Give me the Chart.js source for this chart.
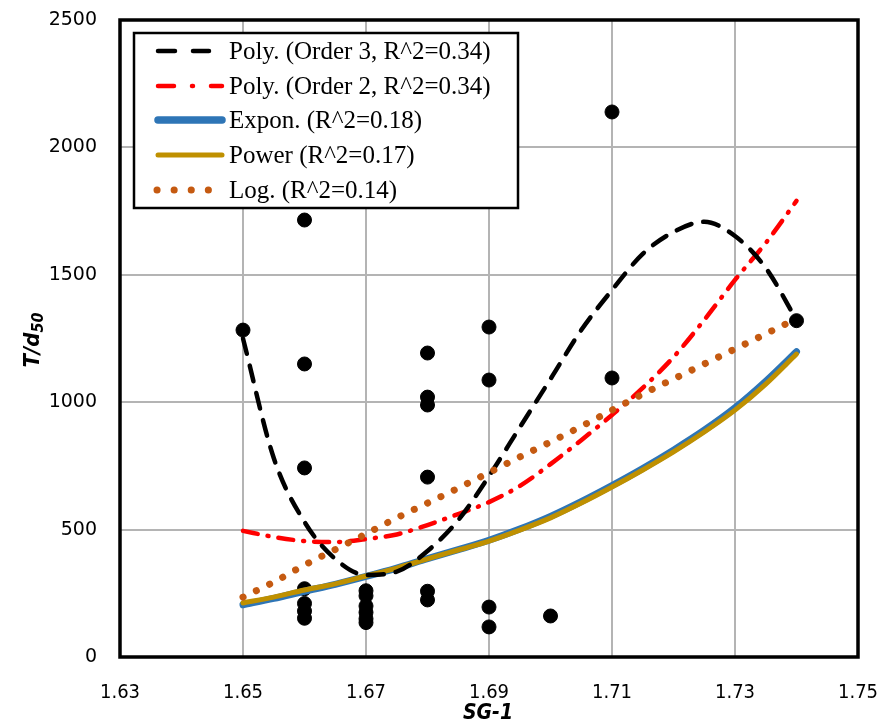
<!DOCTYPE html>
<html>
<head>
<meta charset="utf-8">
<script src="https://cdn.jsdelivr.net/npm/chart.js@4.4.1/dist/chart.umd.min.js"></script>
<style>
  html, body { margin: 0; padding: 0; background: #fff; }
  #wrap { width: 881px; height: 728px; }
</style>
</head>
<body>
<div id="wrap"><canvas id="chartSG"></canvas></div>
<script>
// measured points (SG-1, T/d50)
const obsX = [1.65, 1.66, 1.66, 1.66, 1.66, 1.66, 1.66, 1.66,
  1.67, 1.67, 1.67, 1.67, 1.67, 1.67,
  1.68, 1.68, 1.68, 1.68, 1.68, 1.68,
  1.69, 1.69, 1.69, 1.69, 1.70, 1.71, 1.71, 1.74];
const obsY = [1283, 1715, 1150, 742, 268, 210, 180, 152,
  260, 240, 200, 175, 150, 135,
  1193, 1020, 989, 706, 258, 224,
  1295, 1087, 196, 118, 161, 2139, 1095, 1320];

// trendlines
const trendX = [1.65, 1.655, 1.66, 1.665, 1.67, 1.675, 1.68, 1.685, 1.69, 1.695,
  1.70, 1.705, 1.71, 1.715, 1.72, 1.725, 1.73, 1.735, 1.74];
const poly3 = [1250, 781, 530, 385, 322, 335, 416, 537, 710, 901,
  1091, 1283, 1440, 1582, 1668, 1708, 1652, 1527, 1323];
const poly2 = [495, 471, 455, 451, 463, 481, 518, 561, 608, 671,
  757, 851, 950, 1056, 1177, 1323, 1480, 1625, 1790];
const expon = [205, 230, 258, 285, 316, 349, 386, 421, 458, 502,
  552, 610, 673, 740, 812, 890, 978, 1082, 1198];
const power = [212, 235, 263, 287, 318, 349, 385, 420, 455, 498,
  546, 604, 667, 734, 805, 883, 969, 1071, 1189];
const logFit = [235, 294, 361, 422, 483, 546, 604, 663, 724, 785,
  844, 905, 969, 1032, 1091, 1150, 1209, 1268, 1328];

const xTicks = [1.63, 1.65, 1.67, 1.69, 1.71, 1.73, 1.75];
const yTicks = [0, 500, 1000, 1500, 2000, 2500];

const legendNames = [
  'Poly. (Order 3, R^2=0.34)',
  'Poly. (Order 2, R^2=0.34)',
  'Expon. (R^2=0.18)',
  'Power (R^2=0.17)',
  'Log. (R^2=0.14)'
];

const pts = (xs, ys) => xs.map((x, i) => ({ x: x, y: ys[i] }));

const trendStyles = [
  { color: '#000000', width: 4.5, dash: [16, 12], order: 2 },
  { color: '#ff0000', width: 4.5, dash: [15, 10, 1, 10], order: 3 },
  { color: '#2e75b6', width: 7, dash: [], order: 5 },
  { color: '#bf9000', width: 5, dash: [], order: 4 },
  { color: '#c55a11', width: 7, dash: [0.1, 14.7], order: 1 }
];
const trendData = [poly3, poly2, expon, power, logFit];

// legend swatches: [x0, x1, dash]
const swatches = [
  [158, 209, [17, 18]],
  [158, 222, [16, 18, 1, 18]],
  [158, 222, []],
  [158, 222, []],
  [157, 210, [0.1, 17]]
];

const datasets = trendData.map((vals, i) => ({
  label: legendNames[i],
  data: pts(trendX, vals),
  showLine: true,
  borderColor: trendStyles[i].color,
  borderWidth: trendStyles[i].width,
  borderDash: trendStyles[i].dash,
  borderCapStyle: 'round',
  cubicInterpolationMode: 'monotone',
  pointRadius: 0,
  fill: false,
  order: trendStyles[i].order
}));

datasets.push({
  label: 'data',
  data: pts(obsX, obsY),
  backgroundColor: '#000',
  borderColor: '#000',
  pointRadius: 7,
  pointHoverRadius: 7,
  showLine: false,
  order: 6
});

const titleFont = '"DejaVu Sans Condensed", "Liberation Sans Narrow", sans-serif';

// frame, axis titles and legend box
const decor = {
  id: 'decor',
  beforeDatasetsDraw(chart) {
    const { ctx, chartArea: a } = chart;
    ctx.save();
    ctx.strokeStyle = '#000';
    ctx.lineWidth = 3.5;
    ctx.strokeRect(a.left, a.top, a.right - a.left, a.bottom - a.top);
    ctx.restore();
  },
  afterDatasetsDraw(chart) {
    const { ctx } = chart;
    ctx.save();
    // x title
    ctx.fillStyle = '#000';
    ctx.font = 'bold italic 21px ' + titleFont;
    ctx.textAlign = 'center';
    ctx.textBaseline = 'middle';
    ctx.fillText('SG-1', 488, 714);
    // y title with subscript
    ctx.translate(33, 340);
    ctx.rotate(-Math.PI / 2);
    ctx.textAlign = 'left';
    ctx.font = 'bold italic 22px ' + titleFont;
    const main = 'T/d';
    const w1 = ctx.measureText(main).width;
    ctx.font = 'bold italic 16px ' + titleFont;
    const w2 = ctx.measureText('50').width;
    const start = -(w1 + w2) / 2;
    ctx.font = 'bold italic 22px ' + titleFont;
    ctx.fillText(main, start, 0);
    ctx.font = 'bold italic 16px ' + titleFont;
    ctx.fillText('50', start + w1, 6);
    ctx.restore();

    // legend
    ctx.save();
    ctx.fillStyle = '#fff';
    ctx.fillRect(134, 33, 384, 175);
    ctx.strokeStyle = '#000';
    ctx.lineWidth = 2.5;
    ctx.strokeRect(134, 33, 384, 175);
    const rowY = [51, 86, 120, 155, 190];
    legendNames.forEach((name, i) => {
      const s = trendStyles[i];
      const sw = swatches[i];
      ctx.beginPath();
      ctx.strokeStyle = s.color;
      ctx.lineWidth = i === 2 ? 7.5 : s.width;
      ctx.lineCap = 'round';
      ctx.setLineDash(sw[2]);
      ctx.moveTo(sw[0], rowY[i]);
      ctx.lineTo(sw[1], rowY[i]);
      ctx.stroke();
      ctx.setLineDash([]);
      ctx.fillStyle = '#000';
      ctx.font = '25px "Liberation Serif", "Times New Roman", serif';
      ctx.textAlign = 'left';
      ctx.textBaseline = 'middle';
      ctx.fillText(name, 229, rowY[i] + 1);
    });
    ctx.restore();
  }
};

new Chart(document.getElementById('chartSG').getContext('2d'), {
  type: 'scatter',
  data: { datasets: datasets },
  plugins: [decor],
  options: {
    responsive: true,
    maintainAspectRatio: false,
    animation: false,
    layout: { padding: { left: 0, top: 20, right: 23, bottom: 0 } },
    plugins: { legend: { display: false }, tooltip: { enabled: false } },
    scales: {
      x: {
        type: 'linear',
        min: 1.63,
        max: 1.75,
        afterFit: s => { s.height = 71; s.paddingLeft = 0; s.paddingRight = 0; },
        afterBuildTicks: s => { s.ticks = xTicks.map(v => ({ value: v })); },
        grid: { color: '#b4b4b4', lineWidth: 2, drawTicks: false },
        border: { display: false },
        ticks: {
          color: '#000',
          padding: 24,
          maxRotation: 0,
          font: { family: titleFont, size: 20 },
          callback: v => v.toFixed(2)
        }
      },
      y: {
        min: 0,
        max: 2500,
        afterFit: s => { s.width = 120; s.paddingTop = 0; s.paddingBottom = 0; },
        afterBuildTicks: s => { s.ticks = yTicks.map(v => ({ value: v })); },
        grid: { color: '#b4b4b4', lineWidth: 2, drawTicks: false },
        border: { display: false },
        ticks: {
          color: '#000',
          padding: 23,
          font: { family: '"DejaVu Sans", sans-serif', size: 19 },
          callback: v => String(v)
        }
      }
    }
  }
});
</script>
</body>
</html>
